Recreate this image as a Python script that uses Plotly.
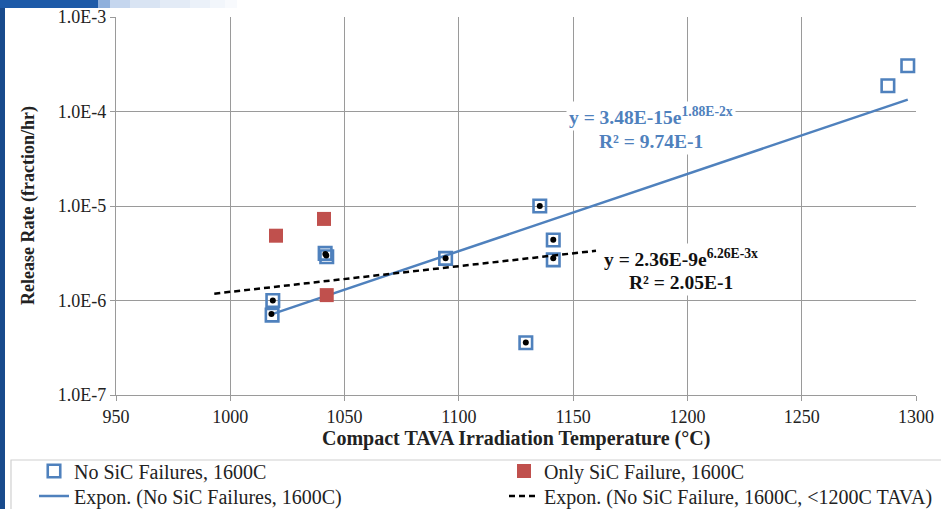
import plotly.graph_objects as go
import numpy as np

# ---------------- data ----------------
no_sic_x = [1018.6, 1018.3, 1041.5, 1042.2, 1094.2, 1129.3, 1135.4, 1141.3, 1141.3, 1287.7, 1296.4]
no_sic_y = [1.0e-6, 7.0e-7, 3.15e-6, 2.9e-6, 2.79e-6, 3.57e-7, 1.0e-5, 4.36e-6, 2.69e-6, 1.87e-4, 3.05e-4]

lt1200_x = [1018.6, 1018.0, 1041.6, 1042.0, 1094.2, 1129.3, 1135.4, 1141.3, 1141.3]
lt1200_y = [1.0e-6, 7.2e-7, 3.1e-6, 3.0e-6, 2.8e-6, 3.6e-7, 1.0e-5, 4.4e-6, 2.8e-6]

only_sic_x = [1020.0, 1041.0, 1042.2]
only_sic_y = [4.85e-6, 7.3e-6, 1.14e-6]

# exponential trendlines (coefficients as printed on the chart)
blue_a, blue_b = 3.48e-15, 1.88e-2
blue_range = [min(no_sic_x), max(no_sic_x)]
black_a, black_b = 2.36e-9, 6.26e-3
black_range = [993.0, 1160.0]

y_tickvals = [1e-7, 1e-6, 1e-5, 1e-4, 1e-3]
y_ticktext = ["1.0E-7", "1.0E-6", "1.0E-5", "1.0E-4", "1.0E-3"]
x_tickvals = [950, 1000, 1050, 1100, 1150, 1200, 1250, 1300]

BLUE = "#4F81BD"
RED = "#C0504D"
FONT = "Liberation Serif"

fig = go.Figure()

fig.add_trace(go.Scatter(
    x=no_sic_x, y=no_sic_y, mode="markers", name="No SiC Failures, 1600C", legend="legend",
    marker=dict(symbol="square-open", size=12.5, color=BLUE, line=dict(width=2.6, color=BLUE)),
))
bx = np.array(blue_range)
fig.add_trace(go.Scatter(
    x=bx, y=blue_a * np.exp(blue_b * bx), mode="lines", legend="legend3",
    name="Expon. (No SiC Failures, 1600C)",
    line=dict(color=BLUE, width=2.5),
))
fig.add_trace(go.Scatter(
    x=only_sic_x, y=only_sic_y, mode="markers", name="Only SiC Failure, 1600C", legend="legend2",
    marker=dict(symbol="square", size=14, color=RED),
))
kx = np.array(black_range)
fig.add_trace(go.Scatter(
    x=kx, y=black_a * np.exp(black_b * kx), mode="lines", legend="legend4",
    name="Expon. (No SiC Failure, 1600C, <1200C TAVA)",
    line=dict(color="black", width=2.5, dash="6px,4px"),
))
fig.add_trace(go.Scatter(
    x=lt1200_x, y=lt1200_y, mode="markers", showlegend=False,
    marker=dict(symbol="circle", size=6, color="black"),
))

L, R, T, B = 116, 25, 17, 114
W, H = 941, 509
pw, ph = W - L - R, H - T - B


def px(xp):
    return (xp - L) / pw


def py(yp):
    return (H - B - yp) / ph


leg_common = dict(
    orientation="v", xref="container", yref="container",
    xanchor="left", yanchor="middle", tracegroupgap=0,
    font=dict(family=FONT, size=20, color="#222222"),
    bgcolor="rgba(0,0,0,0)", borderwidth=0,
)

fig.update_layout(
    width=W, height=H,
    margin=dict(l=L, r=R, t=T, b=B, autoexpand=False),
    paper_bgcolor="white", plot_bgcolor="white",
    font=dict(family=FONT, color="#222222"),
    showlegend=True,
    legend=dict(x=34 / W, y=1 - 471 / H, **leg_common),
    legend2=dict(x=504 / W, y=1 - 471 / H, **leg_common),
    legend3=dict(x=34 / W, y=1 - 496 / H, **leg_common),
    legend4=dict(x=504 / W, y=1 - 496 / H, **leg_common),
    xaxis=dict(
        range=[950, 1300], tickvals=x_tickvals,
        showgrid=True, gridcolor="#9a9a9a", gridwidth=1.4,
        showline=True, linecolor="#9a9a9a", linewidth=1.4,
        ticks="outside", ticklen=5, tickcolor="#9a9a9a",
        tickfont=dict(family=FONT, size=18, color="#222222"),
        zeroline=False,
    ),
    yaxis=dict(
        type="log", range=[-7, -3], tickvals=y_tickvals, ticktext=y_ticktext,
        showgrid=True, gridcolor="#9a9a9a", gridwidth=1.4,
        showline=True, linecolor="#9a9a9a", linewidth=1.4,
        ticks="outside", ticklen=5, tickcolor="#9a9a9a",
        tickfont=dict(family=FONT, size=18, color="#222222"),
        zeroline=False,
    ),
)


def note(text, xp, yp, color, size=19.5, bg="white"):
    return dict(text=text, x=px(xp), y=py(yp), xref="paper", yref="paper", showarrow=False,
                xanchor="center", yanchor="middle", align="center", bgcolor=bg, borderpad=2,
                font=dict(family=FONT, size=size, color=color))


annotations = [
    note("<b>Compact TAVA Irradiation Temperature (°C)</b>", 516, 438, "#222222", size=20, bg="rgba(0,0,0,0)"),
    dict(text="<b>Release Rate (fraction/hr)</b>", x=px(28), y=py(206), textangle=-90,
         xref="paper", yref="paper", showarrow=False, xanchor="center", yanchor="middle",
         font=dict(family=FONT, size=18, color="#222222")),
    note("<b>y = 3.48E-15e<sup>1.88E-2x</sup></b>", 651, 116, BLUE),
    note("<b>R² = 9.74E-1</b>", 651, 141, BLUE),
    note("<b>y = 2.36E-9e<sup>6.26E-3x</sup></b>", 681, 258, "#111111"),
    note("<b>R² = 2.05E-1</b>", 681, 282, "#111111"),
]
fig.update_layout(annotations=annotations)

shapes = [
    # legend frame
    dict(type="rect", xref="paper", yref="paper", x0=px(11), x1=px(960), y0=py(460), y1=py(530),
         line=dict(color="#d0d0d0", width=1.2), fillcolor="rgba(0,0,0,0)", layer="below"),
    # left slide strip
    dict(type="rect", xref="paper", yref="paper", x0=px(0), x1=px(5), y0=py(0), y1=py(H),
         line=dict(width=0), fillcolor="#184a8c", layer="above"),
    # top slide bar
    dict(type="rect", xref="paper", yref="paper", x0=px(0), x1=px(98), y0=py(0), y1=py(8),
         line=dict(width=0), fillcolor="#1d5aa8", layer="above"),
]
# light fading band at the top
band_cols = ["#8fb0dc", "#c5d6ee", "#d9e4f3", "#e3ebf6", "#ebf1f9", "#f2f6fb", "#f8fafd"]
edges = [98, 110, 130, 160, 190, 210, 225, 237]
for i, c in enumerate(band_cols):
    shapes.append(dict(type="rect", xref="paper", yref="paper", x0=px(edges[i]), x1=px(edges[i + 1]),
                       y0=py(0), y1=py(8), line=dict(width=0), fillcolor=c, layer="above"))
fig.update_layout(shapes=shapes)

fig.write_html("out.html", config={"displayModeBar": False},
               post_script="document.body.style.margin='0';")
